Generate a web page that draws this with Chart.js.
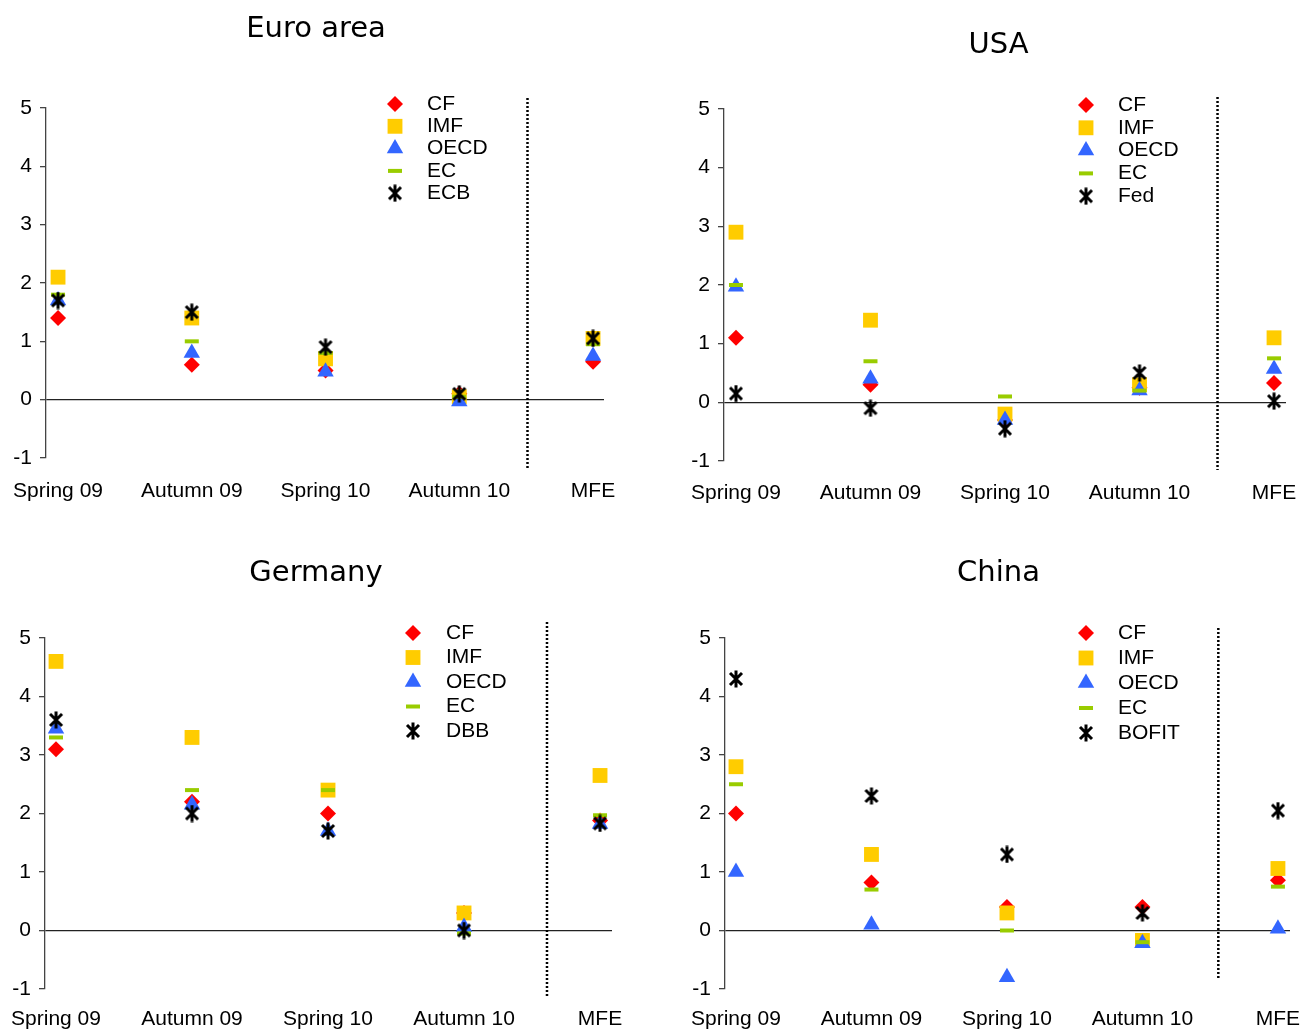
<!DOCTYPE html>
<html>
<head>
<meta charset="utf-8">
<script src="https://cdn.jsdelivr.net/npm/chart.js@4.4.1/dist/chart.umd.min.js"></script>
<style>
html, body { margin: 0; padding: 0; background: #fff; }
body { width: 1302px; height: 1030px; position: relative; overflow: hidden; }
canvas { position: absolute; }
</style>
</head>
<body>
<canvas id="euro" width="651" height="515" style="left:0px;top:0px"></canvas>
<canvas id="usa" width="651" height="515" style="left:651px;top:0px"></canvas>
<canvas id="germany" width="651" height="515" style="left:0px;top:515px"></canvas>
<canvas id="china" width="651" height="515" style="left:651px;top:515px"></canvas>
<script>
const categories = ["Spring 09", "Autumn 09", "Spring 10", "Autumn 10", "MFE"];
const yTicks = [-1, 0, 1, 2, 3, 4, 5];

// Euro area
const euroCF   = [1.4, 0.6, 0.5, 0.1, 0.65];
const euroIMF  = [2.1, 1.4, 0.7, 0.05, 1.05];
const euroOECD = [1.7, 0.8, 0.48, -0.03, 0.75];
const euroEC   = [1.8, 1.0, 0.8, 0.05, 0.95];
const euroECB  = [1.7, 1.5, 0.9, 0.1, 1.05];

// USA
const usaCF   = [1.1, 0.3, -0.3, 0.25, 0.33];
const usaIMF  = [2.9, 1.4, -0.2, 0.3, 1.1];
const usaOECD = [1.97, 0.4, -0.3, 0.2, 0.57];
const usaEC   = [2.0, 0.7, 0.1, 0.2, 0.75];
const usaFed  = [0.15, -0.1, -0.45, 0.5, 0.02];

// Germany
const deCF   = [3.1, 2.2, 2.0, 0.3, 1.88];
const deIMF  = [4.6, 3.3, 2.4, 0.3, 2.65];
const deOECD = [3.45, 2.15, 1.7, 0.06, 1.82];
const deEC   = [3.3, 2.4, 2.4, -0.05, 1.97];
const deDBB  = [3.6, 2.0, 1.7, 0.0, 1.83];

// China
const cnCF    = [2.0, 0.82, 0.4, 0.4, 0.86];
const cnIMF   = [2.8, 1.3, 0.3, -0.17, 1.06];
const cnOECD  = [1.0, 0.1, -0.8, -0.22, 0.03];
const cnEC    = [2.5, 0.7, 0.0, -0.2, 0.75];
const cnBOFIT = [4.3, 2.3, 1.3, 0.3, 2.05];

const tickFont = { family: '"Liberation Sans", Arial, sans-serif', size: 21 };

// asterisk marker: an X with a vertical bar through it
function makeStar(size, lw) {
    const c = document.createElement("canvas");
    c.width = size;
    c.height = size;
    const g = c.getContext("2d");
    g.strokeStyle = "#000";
    g.lineWidth = lw;
    const m = 3;
    g.beginPath();
    g.moveTo(m, m); g.lineTo(size - m, size - m);
    g.moveTo(size - m, m); g.lineTo(m, size - m);
    g.moveTo(size / 2, 0.5); g.lineTo(size / 2, size - 0.5);
    g.stroke();
    return c;
}
const starImg = makeStar(18, 3);

const markers = [
    { pointStyle: "rectRot", radius: 8, color: "#ff0000", borderWidth: 0 },
    { pointStyle: "rect", radius: 10.5, color: "#ffcc00", borderWidth: 0 },
    { pointStyle: "triangle", radius: 9.5, color: "#3366ff", borderWidth: 0 },
    { pointStyle: "line", radius: 7, color: "#99cc00", borderWidth: 4 },
    { pointStyle: starImg, radius: 8, color: "#000000", borderWidth: 0 }
];

const cornerLegend = {
    id: "cornerLegend",
    afterDraw(chart, args, opts) {
        const ctx = chart.ctx;
        ctx.save();
        chart.data.datasets.forEach((ds, i) => {
            const y = opts.y0 + i * opts.dy;
            ctx.fillStyle = ds.backgroundColor;
            ctx.strokeStyle = ds.borderColor;
            ctx.lineWidth = ds.borderWidth;
            Chart.helpers.drawPoint(ctx, {
                pointStyle: ds.pointStyle,
                radius: ds.pointRadius,
                rotation: 0,
                borderWidth: ds.borderWidth
            }, opts.mx, y);
            ctx.fillStyle = "#000";
            ctx.font = '21px "Liberation Sans", Arial, sans-serif';
            ctx.textAlign = "left";
            ctx.textBaseline = "middle";
            ctx.fillText(ds.label, opts.tx, y);
        });
        ctx.restore();
    }
};

// titles sit off-centre over the panels, so they are drawn at a given spot
const panelTitle = {
    id: "panelTitle",
    afterDraw(chart, args, opts) {
        const ctx = chart.ctx;
        ctx.save();
        ctx.fillStyle = "#000";
        ctx.font = '29px "DejaVu Sans", Verdana, sans-serif';
        ctx.textAlign = "center";
        ctx.textBaseline = "middle";
        ctx.fillText(opts.text, opts.x, opts.y);
        ctx.restore();
    }
};

const separator = {
    id: "separator",
    beforeDatasetsDraw(chart, args, opts) {
        const ctx = chart.ctx;
        const a = chart.chartArea;
        const x = chart.scales.x.getPixelForValue(opts.at);
        ctx.save();
        ctx.strokeStyle = "#000";
        ctx.lineWidth = 2.5;
        ctx.setLineDash([2, 2]);
        ctx.beginPath();
        ctx.moveTo(x, a.top - opts.above);
        ctx.lineTo(x, a.bottom + opts.below);
        ctx.stroke();
        ctx.restore();
    }
};

function makeChart(id, title, names, series, lay) {
    const ctx = document.getElementById(id).getContext("2d");
    const datasets = series.map((values, i) => ({
        label: names[i],
        data: values.map((v, j) => ({ x: j, y: v })),
        pointStyle: markers[i].pointStyle,
        pointRadius: markers[i].radius,
        backgroundColor: markers[i].color,
        borderColor: markers[i].color,
        borderWidth: markers[i].borderWidth,
        showLine: false,
        order: series.length - i
    }));

    return new Chart(ctx, {
        type: "scatter",
        data: { datasets: datasets },
        plugins: [separator, cornerLegend, panelTitle],
        options: {
            responsive: false,
            animation: false,
            events: [],
            layout: { padding: { left: 0, right: 651 - lay.right, top: lay.top, bottom: 515 - lay.bottom - lay.xh } },
            scales: {
                x: {
                    type: "linear",
                    min: lay.xmin,
                    max: lay.xmax,
                    grid: {
                        display: true,
                        drawOnChartArea: false,
                        drawTicks: true,
                        tickLength: lay.xgap,
                        tickColor: "rgba(0,0,0,0)"
                    },
                    border: { display: false },
                    afterBuildTicks: s => { s.ticks = categories.map((c, i) => ({ value: i })); },
                    afterFit: s => { s.height = lay.xh; },
                    ticks: {
                        color: "#000",
                        font: tickFont,
                        padding: 0,
                        maxRotation: 0,
                        autoSkip: false,
                        callback: v => categories[v]
                    }
                },
                y: {
                    min: -1,
                    max: 5,
                    afterBuildTicks: s => { s.ticks = yTicks.map(v => ({ value: v })); },
                    afterFit: s => { s.width = lay.left; },
                    border: { display: true, color: "#444", width: 1.3 },
                    grid: {
                        color: c => (c.tick && c.tick.value === 0) ? "#222" : "rgba(0,0,0,0)",
                        tickColor: "#444",
                        tickLength: 6,
                        lineWidth: 1.3
                    },
                    ticks: { color: "#000", font: tickFont, padding: 8 }
                }
            },
            plugins: {
                legend: { display: false },
                tooltip: { enabled: false },
                title: { display: false },
                panelTitle: { text: title, x: lay.titleX, y: lay.titleY },
                separator: { at: lay.sep, above: lay.above, below: lay.below },
                cornerLegend: lay.legend
            }
        }
    });
}

const bankNames = ["CF", "IMF", "OECD", "EC"];

makeChart("euro", "Euro area", bankNames.concat(["ECB"]),
    [euroCF, euroIMF, euroOECD, euroEC, euroECB],
    { left: 46, right: 604, top: 108, bottom: 458, xh: 50, xgap: 21,
      titleX: 316, titleY: 29,
      xmin: -0.09, xmax: 4.082, sep: 3.51, above: 10, below: 10,
      legend: { mx: 395, tx: 427, y0: 104, dy: 22.3 } });

makeChart("usa", "USA", bankNames.concat(["Fed"]),
    [usaCF, usaIMF, usaOECD, usaEC, usaFed],
    { left: 73, right: 635, top: 109, bottom: 461, xh: 50, xgap: 20,
      titleX: 347.5, titleY: 45,
      xmin: -0.089, xmax: 4.089, sep: 3.58, above: 12, below: 9,
      legend: { mx: 1086 - 651, tx: 1118 - 651, y0: 105, dy: 22.8 } });

makeChart("germany", "Germany", bankNames.concat(["DBB"]),
    [deCF, deIMF, deOECD, deEC, deDBB],
    { left: 45, right: 612, top: 123, bottom: 474, xh: 41, xgap: 18,
      titleX: 316, titleY: 58,
      xmin: -0.081, xmax: 4.088, sep: 3.61, above: 16, below: 7,
      legend: { mx: 413, tx: 446, y0: 633 - 515, dy: 24.5 } });

makeChart("china", "China", bankNames.concat(["BOFIT"]),
    [cnCF, cnIMF, cnOECD, cnEC, cnBOFIT],
    { left: 74, right: 639, top: 123, bottom: 474, xh: 41, xgap: 18,
      titleX: 347.5, titleY: 58,
      xmin: -0.081, xmax: 4.089, sep: 3.56, above: 10, below: -9,
      legend: { mx: 1086 - 651, tx: 1118 - 651, y0: 633 - 515, dy: 25 } });
</script>
</body>
</html>
